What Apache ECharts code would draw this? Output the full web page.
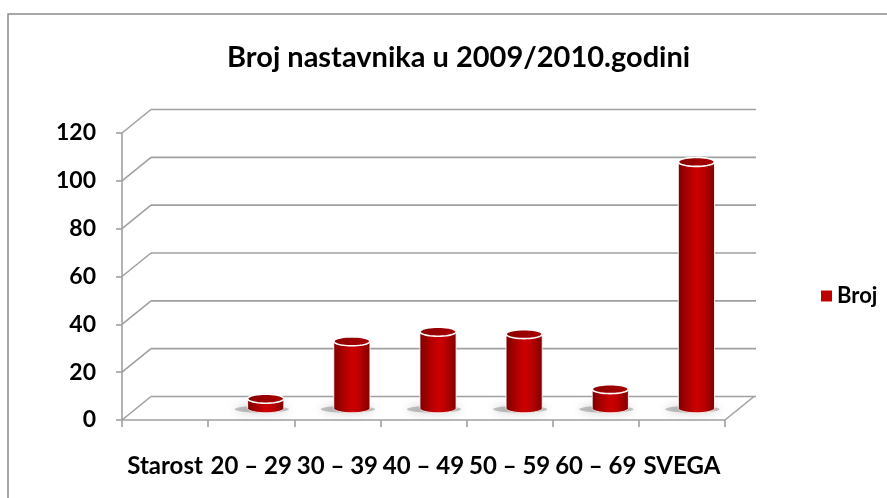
<!DOCTYPE html>
<html>
<head>
<meta charset="utf-8">
<script src="https://cdn.jsdelivr.net/npm/echarts@6/dist/echarts.min.js"></script>
<style>html,body{margin:0;padding:0;background:#fff;}#c{width:887px;height:498px;}</style>
</head>
<body>
<div id="c"></div>
<script>
const titleText = 'Broj nastavnika u 2009/2010.godini';
const seriesName = 'Broj';
const categories = ['Starost', '20 – 29', '30 – 39', '40 – 49', '50 – 59', '60 – 69', 'SVEGA'];
const values = ['-', 4, 28, 32, 31, 8, 103];
const yTicks = [0, 20, 40, 60, 80, 100, 120];

const FONT = 'Lato';
const DX = 29, DY = -23.5;   // depth offset of the 3D back wall
const GRAY = '#a0a0a0';

const chart = echarts.init(document.getElementById('c'), null, {renderer: 'canvas'});

function ellipsePts(cx, cy, rx, ry, a0, a1, n) {
  const pts = [];
  for (let i = 0; i <= n; i++) {
    const a = a0 + (a1 - a0) * i / n;
    pts.push([cx + rx * Math.cos(a), cy + ry * Math.sin(a)]);
  }
  return pts;
}

function renderFrame(params, api) {
  const v = api.value(0);
  const cs = params.coordSys;
  const y = api.coord([0, v])[1];
  const xL = cs.x, xR = cs.x + cs.width;
  const ls = {stroke: GRAY, lineWidth: 1.6};
  const children = [
    {type: 'line', shape: {x1: xL, y1: y, x2: xL + DX, y2: y + DY}, style: ls},
    {type: 'line', shape: {x1: xL + DX, y1: y + DY, x2: xR + DX + 2, y2: y + DY}, style: ls}
  ];
  if (v === 0) {
    children.push({type: 'line', shape: {x1: xR, y1: y, x2: xR + DX, y2: y + DY}, style: ls});
  }
  return {type: 'group', children: children};
}

function renderBar(params, api) {
  const val = api.value(1);
  if (isNaN(val)) return;
  const base = api.coord([api.value(0), 0]);
  const top = api.coord([api.value(0), val]);
  const cx = base[0] + DX / 2;
  const by = base[1] + DY / 2;
  const ty = top[1] + DY / 2;
  const rx = api.size([1, 0])[0] * 0.21;
  const ry = 4.5;
  // lower half of the base ellipse, from right (0) to left (PI) going through the bottom
  const lower = ellipsePts(cx, by, rx, ry, 0, Math.PI, 30);
  const body = [[cx + rx, ty]].concat(lower).concat([[cx - rx, ty]]);
  const bodyGrad = new echarts.graphic.LinearGradient(0, 0, 1, 0, [
    {offset: 0, color: '#7a0000'},
    {offset: 0.25, color: '#a80000'},
    {offset: 0.5, color: '#cc0000'},
    {offset: 0.7, color: '#bb0000'},
    {offset: 1, color: '#7e0000'}
  ]);
  const topGrad = new echarts.graphic.LinearGradient(0, 0, 1, 1, [
    {offset: 0, color: '#880000'},
    {offset: 1, color: '#ad0000'}
  ]);
  return {
    type: 'group',
    children: [
      {type: 'polygon', shape: {points: ellipsePts(cx - 4, by + 1, rx * 1.5, 3.5, 0, Math.PI * 2, 40)},
        style: {fill: 'rgba(90,90,90,0.35)', shadowBlur: 10, shadowColor: 'rgba(60,60,60,0.8)'}},
      {type: 'polygon', shape: {points: body}, style: {fill: bodyGrad, stroke: 'rgba(255,255,255,0.85)', lineWidth: 1}},
      {type: 'polygon', shape: {points: ellipsePts(cx, ty, rx, ry, 0, Math.PI * 2, 40)}, style: {fill: topGrad, stroke: '#ffffff', lineWidth: 1.6}}
    ]
  };
}

const option = {
  animation: false,
  backgroundColor: '#ffffff',
  title: {
    text: titleText,
    left: 222, top: 38,
    textStyle: {fontFamily: FONT, fontSize: 29, fontWeight: 'bold', color: '#000'}
  },
  legend: {
    data: [seriesName],
    left: 816, top: 280,
    icon: 'rect', itemWidth: 11, itemHeight: 11, itemGap: 8,
    textStyle: {fontFamily: FONT, fontSize: 22, fontWeight: 'bold', color: '#000'}
  },
  grid: {left: 122, right: 162, top: 133, bottom: 78, containLabel: false},
  xAxis: {
    type: 'category',
    data: categories,
    boundaryGap: true,
    axisLine: {show: true, lineStyle: {color: GRAY, width: 1.6}},
    axisTick: {show: true, interval: 0, length: 7, lineStyle: {color: GRAY, width: 1.6}},
    axisLabel: {interval: 0, margin: 34, fontFamily: FONT, fontSize: 24, fontWeight: 'bold', color: '#000'},
    splitLine: {show: false}
  },
  yAxis: {
    type: 'value',
    min: 0, max: 120, interval: 20,
    axisLine: {show: true, lineStyle: {color: GRAY, width: 1.6}},
    axisTick: {show: true, length: 6, lineStyle: {color: GRAY, width: 1.6}},
    axisLabel: {margin: 26, fontFamily: FONT, fontSize: 23, fontWeight: 'bold', color: '#000'},
    splitLine: {show: false}
  },
  graphic: [{
    type: 'rect', silent: true, z: -10,
    shape: {x: 8, y: 14, width: 900, height: 500},
    style: {fill: 'none', stroke: '#8c8c8c', lineWidth: 1.5}
  }],
  series: [
    {
      type: 'custom', name: 'frame', clip: false, z: 1, silent: true,
      renderItem: renderFrame,
      data: yTicks.map(v => [v])
    },
    {
      type: 'custom', name: seriesName, clip: false, z: 5,
      itemStyle: {color: '#C00000'},
      renderItem: renderBar,
      encode: {x: 0, y: 1},
      data: values.map((v, i) => [i, v])
    }
  ]
};
chart.setOption(option);
</script>
</body>
</html>
